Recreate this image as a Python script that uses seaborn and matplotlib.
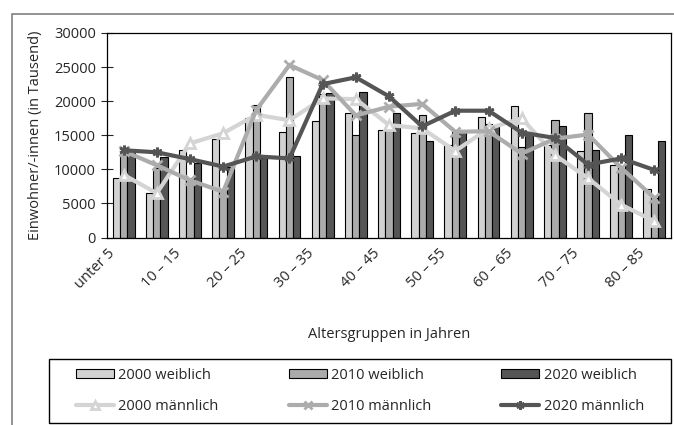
import matplotlib
matplotlib.use("Agg")
import matplotlib.pyplot as plt
import seaborn as sns
import pandas as pd
import numpy as np
from matplotlib.patches import Patch, Rectangle
from matplotlib.lines import Line2D
from matplotlib.transforms import ScaledTranslation

sns.set_style("white")
plt.rcParams["font.family"] = ["Open Sans", "DejaVu Sans"]
plt.rcParams["font.size"] = 10.5

age_groups = ["unter 5", "5 – 10", "10 – 15", "15 – 20", "20 – 25", "25 – 30",
              "30 – 35", "35 – 40", "40 – 45", "45 – 50", "50 – 55", "55 – 60",
              "60 – 65", "65 – 70", "70 – 75", "75 – 80", "80 – 85"]

# Frauen (Balken)
women_2000 = [8800, 6500, 12800, 14400, 17500, 15500, 17100, 18200, 15700,
              15400, 13500, 17700, 19300, 13500, 12700, 10700, 7100]
women_2010 = [12500, 10200, 8800, 6900, 19400, 23500, 21000, 15000, 16000,
              17900, 15500, 16700, 13300, 17200, 18200, 10100, 5800]
women_2020 = [12400, 11800, 10900, 10300, 11600, 11900, 21200, 21300, 18300,
              14200, 15500, 16300, 15500, 16300, 12800, 15100, 14200]

# Männer (Linien)
men_2000 = [9200, 6500, 13800, 15300, 18000, 17200, 20400, 20300, 16500,
            16000, 12700, 16000, 17500, 12100, 8700, 4800, 2400]
men_2010 = [12700, 10600, 8400, 6700, 18700, 25300, 23100, 17900, 19200,
            19600, 15500, 15600, 12300, 14500, 15100, 10200, 5800]
men_2020 = [12800, 12500, 11500, 10400, 11900, 11600, 22500, 23500, 20700,
            16300, 18600, 18600, 15400, 14600, 10700, 11600, 9900]

bar_series = ["2000 weiblich", "2010 weiblich", "2020 weiblich"]
bar_colors = ["#d2d2d2", "#ababab", "#555555"]
line_series = ["2000 männlich", "2010 männlich", "2020 männlich"]
line_colors = ["#d4d4d4", "#acacac", "#555555"]

df = pd.DataFrame({
    "age": age_groups * 3,
    "value": women_2000 + women_2010 + women_2020,
    "series": [s for s in bar_series for _ in age_groups],
})

fig = plt.figure(figsize=(6.74, 4.25), dpi=100)
ax = fig.add_axes([107 / 674, 1 - 237.5 / 425, 564 / 674, 204.5 / 425])

sns.barplot(data=df, x="age", y="value", hue="series", order=age_groups,
            hue_order=bar_series, palette=bar_colors, width=0.66, saturation=1,
            edgecolor="black", linewidth=0.8, legend=False, ax=ax)

pos = np.arange(len(age_groups))
markers = ["^", "x", (6, 2, 0)]
faces = ["white", line_colors[1], line_colors[2]]
for vals, color, mk, fc in zip([men_2000, men_2010, men_2020], line_colors, markers, faces):
    sns.lineplot(x=pos, y=vals, color=color, lw=3, marker=mk, markersize=7,
                 markeredgewidth=2, markeredgecolor=color, markerfacecolor=fc,
                 ax=ax, legend=False, zorder=3)

ax.set_xlim(-0.5, len(age_groups) - 0.5)
ax.set_ylim(0, 30000)
ax.set_yticks(range(0, 30001, 5000))
ax.set_xticks(pos[::2])
ax.set_xticklabels(age_groups[::2], rotation=45, ha="right", va="center",
                   rotation_mode="anchor")
ax.set_xticks(np.arange(-0.5, len(age_groups)), minor=True)
ax.tick_params(axis="x", which="major", length=0, pad=10)
ax.tick_params(axis="x", which="minor", direction="inout", length=8, width=0.8)
ax.tick_params(axis="y", direction="inout", length=8, width=0.8, left=True, pad=4)
for lbl in ax.get_xticklabels():
    lbl.set_transform(lbl.get_transform() + ScaledTranslation(-8 / 72, 0, fig.dpi_scale_trans))

for sp in ax.spines.values():
    sp.set_color("black")
    sp.set_linewidth(0.9)

ax.set_xlabel("Altersgruppen in Jahren", labelpad=25)
ax.set_ylabel("Einwohner/-innen (in Tausend)", labelpad=8)

handles = []
labels = []
for i in range(3):
    handles.append(Patch(facecolor=bar_colors[i], edgecolor="black", linewidth=0.8))
    labels.append(bar_series[i])
    handles.append(Line2D([], [], color=line_colors[i], lw=3, marker=markers[i],
                          markersize=6, markeredgewidth=2, markerfacecolor=faces[i]))
    labels.append(line_series[i])

fig.legend(handles, labels, ncol=3, loc="center",
           bbox_to_anchor=(360 / 674, 1 - 391 / 425), frameon=False,
           handlelength=2.6, handleheight=0.6, labelspacing=1.1,
           handletextpad=0.3, columnspacing=4.8)

# Legendenrahmen und äußerer Diagrammrahmen
fig.patches.append(Rectangle((49 / 674, 2 / 425), 622 / 674, 64 / 425,
                             transform=fig.transFigure, fill=False,
                             edgecolor="black", lw=1.0))
fig.patches.append(Rectangle((12 / 674, -0.1), 1.2, 1 - 14 / 425 + 0.1,
                             transform=fig.transFigure, fill=False,
                             edgecolor="#808080", lw=1.2))

fig.savefig("out.png", dpi=100)
